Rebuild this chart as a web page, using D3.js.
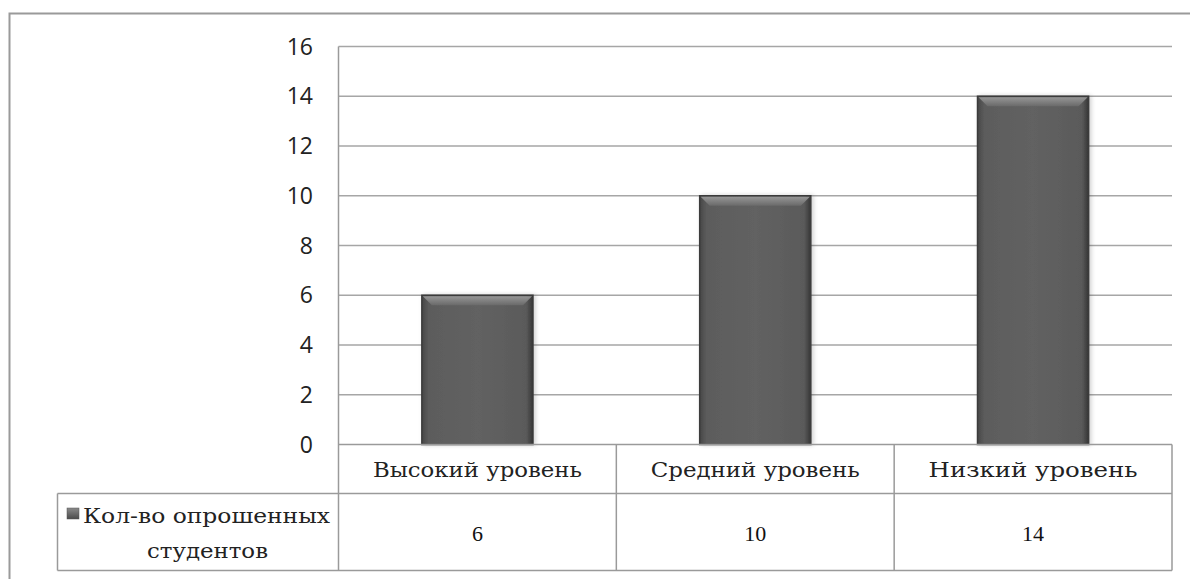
<!DOCTYPE html>
<html><head><meta charset="utf-8">
<script src="https://cdn.jsdelivr.net/npm/d3@7"></script>
<style>body{margin:0;background:#fff;}svg{display:block;}</style>
</head><body>
<script>
const categories = ["Высокий уровень", "Средний уровень", "Низкий уровень"];
const values = [6, 10, 14];
const seriesName = ["Кол-во опрошенных", "студентов"];
const yTicks = [0, 2, 4, 6, 8, 10, 12, 14, 16];

(function(){
const W = 1190, H = 579;
const svg = d3.select("body").append("svg").attr("width", W).attr("height", H);

const defs = svg.append("defs");
const g1 = defs.append("linearGradient").attr("id","barG").attr("x1","0").attr("x2","1").attr("y1","0").attr("y2","0");
g1.append("stop").attr("offset","0").attr("stop-color","#474747");
g1.append("stop").attr("offset","0.06").attr("stop-color","#5c5c5c");
g1.append("stop").attr("offset","0.5").attr("stop-color","#626262");
g1.append("stop").attr("offset","0.94").attr("stop-color","#5a5a5a");
g1.append("stop").attr("offset","1").attr("stop-color","#363636");
const g2 = defs.append("linearGradient").attr("id","bevG").attr("x1","0").attr("x2","0").attr("y1","0").attr("y2","1");
g2.append("stop").attr("offset","0").attr("stop-color","#a0a0a0");
g2.append("stop").attr("offset","1").attr("stop-color","#6c6c6c");
const g3 = defs.append("linearGradient").attr("id","legG").attr("x1","0").attr("x2","0").attr("y1","0").attr("y2","1");
g3.append("stop").attr("offset","0").attr("stop-color","#8a8a8a");
g3.append("stop").attr("offset","1").attr("stop-color","#4a4a4a");
const sh = defs.append("filter").attr("id","shadow").attr("x","-10%").attr("y","-10%").attr("width","130%").attr("height","130%");
sh.append("feDropShadow").attr("dx",2).attr("dy",0).attr("stdDeviation",2).attr("flood-color","#000").attr("flood-opacity",0.18);

// outer frame
svg.append("path").attr("d", `M9.5,${H} L9.5,13.5 L${W},13.5`).attr("fill","none")
  .attr("stroke","#9a9a9a").attr("stroke-width",2);

const pL = 338.5, pR = 1172, pT = 46.5, pB = 444.5;
const rowMid = 493.5, tableBottom = 570.5, tableLeft = 57.5;

const y = d3.scaleLinear().domain([0, 16]).range([pB, pT]);
const x = d3.scaleBand().domain(categories).range([pL, pR]).padding(0);
const bw = x.bandwidth() * 0.4;

// gridlines
svg.append("g").selectAll("line").data(yTicks.filter(d => d > 0)).join("line")
  .attr("x1", pL).attr("x2", pR).attr("y1", d => y(d)).attr("y2", d => y(d))
  .attr("stroke","#a6a6a6").attr("stroke-width",1.5);

// y axis labels
const yAxis = d3.axisLeft(y).tickValues(yTicks).tickSize(0).tickPadding(0);
const ya = svg.append("g").attr("transform", `translate(313,0)`).call(yAxis);
ya.select(".domain").remove();
ya.selectAll("text").attr("font-family","'Open Sans', sans-serif").attr("font-size",23)
  .attr("fill","#222").attr("dy","0.33em");

// bars
const bars = svg.append("g").selectAll("g").data(values).join("g");
bars.append("rect")
  .attr("x", (d,i) => x(categories[i]) + x.bandwidth()/2 - bw/2)
  .attr("y", d => y(d)).attr("width", bw).attr("height", d => pB - y(d))
  .attr("fill","url(#barG)").attr("stroke","#3a3a3a").attr("stroke-width",1.5)
  .attr("filter","url(#shadow)");
bars.append("path")
  .attr("d", (d,i) => {
    const x0 = x(categories[i]) + x.bandwidth()/2 - bw/2, x1 = x0 + bw, t = y(d);
    return `M${x0+1},${t+1} L${x1-1},${t+1} L${x1-10},${t+10} L${x0+10},${t+10} Z`;
  })
  .attr("fill","url(#bevG)").attr("opacity",0.85);

// table
const tbl = svg.append("g").attr("stroke","#9a9a9a").attr("stroke-width",1.5).attr("fill","none");
tbl.append("line").attr("x1",pL).attr("x2",pL).attr("y1",pT).attr("y2",tableBottom);
tbl.append("line").attr("x1",pL).attr("x2",pR).attr("y1",pB).attr("y2",pB);
tbl.append("line").attr("x1",tableLeft).attr("x2",pR).attr("y1",rowMid).attr("y2",rowMid);
tbl.append("line").attr("x1",tableLeft).attr("x2",pR).attr("y1",tableBottom).attr("y2",tableBottom);
tbl.append("line").attr("x1",tableLeft).attr("x2",tableLeft).attr("y1",rowMid).attr("y2",tableBottom);
tbl.selectAll(".vsep").data(categories).join("line").attr("class","vsep")
  .attr("x1", d => x(d) + x.bandwidth()).attr("x2", d => x(d) + x.bandwidth())
  .attr("y1", pB).attr("y2", tableBottom);

const serif = "'DejaVu Serif', 'Liberation Serif', serif";
svg.append("g").selectAll("text").data(categories).join("text")
  .attr("x", d => x(d) + x.bandwidth()/2).attr("y", 477)
  .attr("text-anchor","middle").attr("font-family",serif).attr("font-size",19.5).attr("fill","#222")
  .attr("textLength", 209).attr("lengthAdjust","spacingAndGlyphs")
  .text(d => d);
svg.append("g").selectAll("text").data(values).join("text")
  .attr("x", (d,i) => x(categories[i]) + x.bandwidth()/2).attr("y", 541)
  .attr("text-anchor","middle").attr("font-family","'Liberation Serif', serif").attr("font-size",22).attr("fill","#111")
  .text(d => d);

// legend
svg.append("rect").attr("x",67).attr("y",508).attr("width",12).attr("height",11)
  .attr("fill","url(#legG)").attr("stroke","#555").attr("stroke-width",0.5);
svg.append("text").attr("x",83).attr("y",523).attr("font-family",serif).attr("font-size",19.5).attr("fill","#222")
  .attr("textLength", 247).attr("lengthAdjust","spacingAndGlyphs")
  .text(seriesName[0]);
svg.append("text").attr("x",147).attr("y",558).attr("font-family",serif).attr("font-size",19.5).attr("fill","#222")
  .attr("textLength", 121).attr("lengthAdjust","spacingAndGlyphs")
  .text(seriesName[1]);
})();
</script>
</body></html>
